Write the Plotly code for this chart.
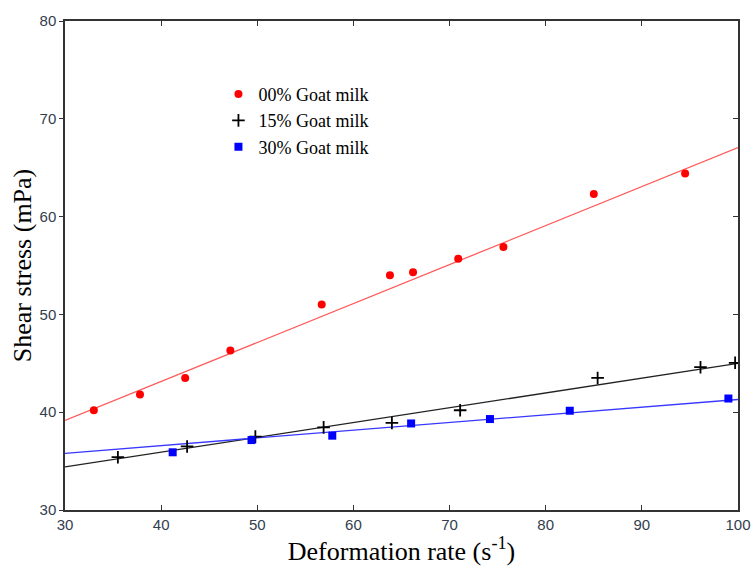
import plotly.graph_objects as go

# Data
x_00 = [33.0, 37.8, 42.5, 47.2, 56.7, 63.8, 66.2, 70.9, 75.6, 85.0, 94.5]
y_00 = [40.2, 41.8, 43.5, 46.3, 51.0, 54.0, 54.3, 55.7, 56.9, 62.3, 64.4]

x_15 = [35.5, 42.7, 49.8, 56.9, 64.0, 71.1, 85.4, 96.1, 99.7]
y_15 = [35.4, 36.5, 37.5, 38.45, 38.9, 40.2, 43.5, 44.6, 45.05]

x_30 = [41.2, 49.4, 57.8, 66.0, 74.2, 82.5, 99.0]
y_30 = [35.9, 37.15, 37.6, 38.85, 39.3, 40.15, 41.4]

fit_x = [30, 100]
fit_00 = [39.15, 67.05]
fit_15 = [34.4, 45.0]
fit_30 = [35.8, 41.3]

x_ticks = [30, 40, 50, 60, 70, 80, 90, 100]
y_ticks = [30, 40, 50, 60, 70, 80]

fig = go.Figure()
fig.add_trace(go.Scatter(x=fit_x, y=fit_00, mode="lines", line=dict(color="#ff5a5a", width=1.3), showlegend=False))
fig.add_trace(go.Scatter(x=fit_x, y=fit_15, mode="lines", line=dict(color="#222222", width=1.3), showlegend=False))
fig.add_trace(go.Scatter(x=fit_x, y=fit_30, mode="lines", line=dict(color="#3838ff", width=1.3), showlegend=False))

fig.add_trace(go.Scatter(x=x_00, y=y_00, mode="markers", name="00% Goat milk",
                         marker=dict(symbol="circle", color="#ff0000", size=8)))
fig.add_trace(go.Scatter(x=x_15, y=y_15, mode="markers", name="15% Goat milk",
                         marker=dict(symbol="cross-thin", color="#000000", size=9,
                                     line=dict(color="#000000", width=1.8))))
fig.add_trace(go.Scatter(x=x_30, y=y_30, mode="markers", name="30% Goat milk",
                         marker=dict(symbol="square", color="#0000ff", size=8)))

# invisible trace for mirrored axes
fig.add_trace(go.Scatter(x=[30], y=[30], xaxis="x2", yaxis="y2", mode="markers",
                         marker=dict(opacity=0), showlegend=False, hoverinfo="skip"))

axis_col = "#333333"
tick_font = dict(family="Liberation Sans, Arial, sans-serif", size=15, color="#333d4d")
title_font = dict(family="Liberation Serif, Times New Roman, serif", size=26, color="#000000")

fig.update_layout(
    width=753, height=568,
    margin=dict(l=65, r=15, t=21, b=58, autoexpand=False),
    paper_bgcolor="white", plot_bgcolor="white",
    showlegend=True,
    legend=dict(x=0.228, y=0.888, xanchor="left", yanchor="top",
                bgcolor="rgba(0,0,0,0)",
                font=dict(family="Liberation Serif, Times New Roman, serif", size=18, color="#000"),
                itemwidth=30, tracegroupgap=0),
    xaxis=dict(range=[30, 100], tickvals=x_ticks, ticks="inside", ticklen=5, tickcolor=axis_col,
               showline=True, linecolor=axis_col, linewidth=1.5, showgrid=False, zeroline=False,
               tickfont=tick_font, automargin=False,
               title=dict(text="Deformation rate (s<sup>-1</sup>)", font=title_font, standoff=0)),
    yaxis=dict(range=[30, 80], tickvals=y_ticks, ticks="outside", ticklen=4, tickcolor=axis_col,
               showline=True, linecolor=axis_col, linewidth=1.5, showgrid=False, zeroline=False,
               tickfont=tick_font, automargin=False,
               title=dict(text="Shear stress (mPa)", font=title_font, standoff=0)),
    xaxis2=dict(range=[30, 100], tickvals=x_ticks, ticks="inside", ticklen=5, tickcolor=axis_col,
                overlaying="x", side="top", showticklabels=False, showline=True, automargin=False,
                linecolor=axis_col, linewidth=1.5, showgrid=False, zeroline=False),
    yaxis2=dict(range=[30, 80], tickvals=y_ticks, ticks="inside", ticklen=5, tickcolor=axis_col,
                overlaying="y", side="right", showticklabels=False, showline=True, automargin=False,
                linecolor=axis_col, linewidth=1.5, showgrid=False, zeroline=False),
)

fig.write_html("out.html")
